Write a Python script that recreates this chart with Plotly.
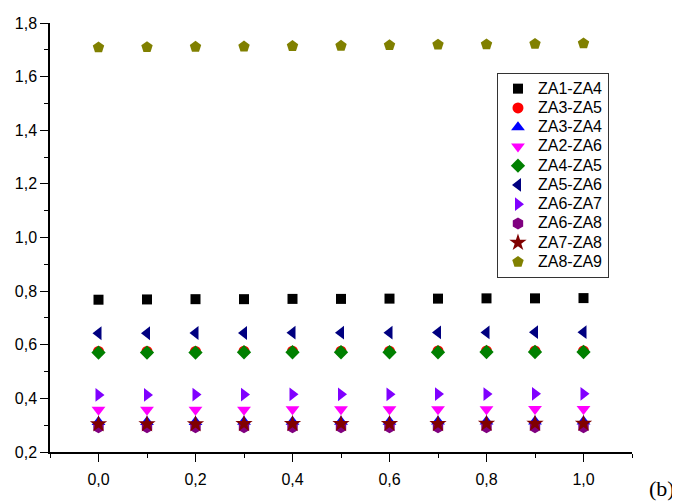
import plotly.graph_objects as go

x_vals = [0.0, 0.1, 0.2, 0.3, 0.4, 0.5, 0.6, 0.7, 0.8, 0.9, 1.0]

za1_za4 = [0.768, 0.769, 0.770, 0.770, 0.771, 0.771, 0.772, 0.772, 0.773, 0.773, 0.774]
za3_za5 = [0.575, 0.575, 0.575, 0.576, 0.576, 0.576, 0.576, 0.577, 0.577, 0.577, 0.577]
za3_za4 = [0.312, 0.312, 0.312, 0.313, 0.313, 0.313, 0.313, 0.314, 0.314, 0.314, 0.314]
za2_za6 = [0.358, 0.358, 0.358, 0.358, 0.359, 0.359, 0.359, 0.359, 0.359, 0.360, 0.360]
za4_za5 = [0.571, 0.571, 0.571, 0.572, 0.572, 0.572, 0.572, 0.572, 0.573, 0.573, 0.573]
za5_za6 = [0.643, 0.643, 0.644, 0.644, 0.645, 0.645, 0.645, 0.646, 0.646, 0.647, 0.647]
za6_za7 = [0.413, 0.413, 0.414, 0.414, 0.415, 0.415, 0.415, 0.416, 0.416, 0.417, 0.417]
za6_za8 = [0.292, 0.292, 0.292, 0.292, 0.292, 0.292, 0.292, 0.292, 0.292, 0.292, 0.292]
za7_za8 = [0.304, 0.304, 0.304, 0.305, 0.305, 0.305, 0.305, 0.305, 0.306, 0.306, 0.306]
za8_za9 = [1.709, 1.710, 1.711, 1.712, 1.714, 1.715, 1.717, 1.719, 1.720, 1.722, 1.724]

series_names = ["ZA1-ZA4", "ZA3-ZA5", "ZA3-ZA4", "ZA2-ZA6", "ZA4-ZA5",
                "ZA5-ZA6", "ZA6-ZA7", "ZA6-ZA8", "ZA7-ZA8", "ZA8-ZA9"]
series_values = [za1_za4, za3_za5, za3_za4, za2_za6, za4_za5,
                 za5_za6, za6_za7, za6_za8, za7_za8, za8_za9]
symbols = ["square", "circle", "triangle-up", "triangle-down", "diamond",
           "triangle-left", "triangle-right", "hexagon", "star", "pentagon"]
colors = ["#000000", "#FF0000", "#0000FF", "#FF00FF", "#008000",
          "#000080", "#8000FF", "#800080", "#800000", "#808000"]
sizes = [10, 11, 12, 12, 11, 12, 12, 12, 13, 12]

y_ticks = [0.2, 0.4, 0.6, 0.8, 1.0, 1.2, 1.4, 1.6, 1.8]
x_ticks = [0.0, 0.2, 0.4, 0.6, 0.8, 1.0]

fig = go.Figure()
for name, vals, sym, col, sz in zip(series_names, series_values, symbols, colors, sizes):
    fig.add_trace(go.Scatter(
        x=x_vals, y=vals, mode="markers",
        name='<span style="font-size:16px">' + name + '</span>',
        marker=dict(symbol=sym, color=col, size=sz, line=dict(width=0)),
    ))

axis_font = dict(family="Liberation Sans, Arial, sans-serif", size=16, color="black")

fig.update_layout(
    width=672, height=493,
    margin=dict(l=42, r=48, t=15, b=49, autoexpand=False),
    paper_bgcolor="white", plot_bgcolor="white",
    separators=",.",
    showlegend=True,
    legend=dict(
        x=0.768, y=0.8834, xanchor="left", yanchor="top",
        bgcolor="white", bordercolor="#333333", borderwidth=1,
        font=dict(family="Liberation Sans, Arial, sans-serif", size=12.5, color="black"),
        tracegroupgap=0, itemwidth=30,
    ),
    xaxis=dict(
        range=[-0.1, 1.1], tickvals=x_ticks, tickformat=".1f",
        showgrid=False, zeroline=False, showline=True, linecolor="black", linewidth=1.5,
        ticks="outside", ticklen=8, tickwidth=1.2, tickcolor="black",
        ticklabelstandoff=4,
        minor=dict(dtick=0.1, tick0=0, ticks="outside", ticklen=4, tickwidth=1.2, tickcolor="black"),
        tickfont=axis_font,
    ),
    yaxis=dict(
        range=[0.2, 1.8], tickvals=y_ticks, tickformat=".1f",
        showgrid=False, zeroline=False, showline=True, linecolor="black", linewidth=1.5,
        ticks="outside", ticklen=8, tickwidth=1.2, tickcolor="black",
        minor=dict(dtick=0.1, tick0=0, ticks="outside", ticklen=4, tickwidth=1.2, tickcolor="black"),
        tickfont=axis_font,
    ),
    annotations=[dict(
        text="(b)", xref="paper", yref="paper", x=1.0515, y=-0.084,
        xanchor="center", yanchor="middle", showarrow=False,
        font=dict(family="Liberation Serif, Times New Roman, serif", size=22, color="black"),
    )],
)

fig.write_html("out.html")
